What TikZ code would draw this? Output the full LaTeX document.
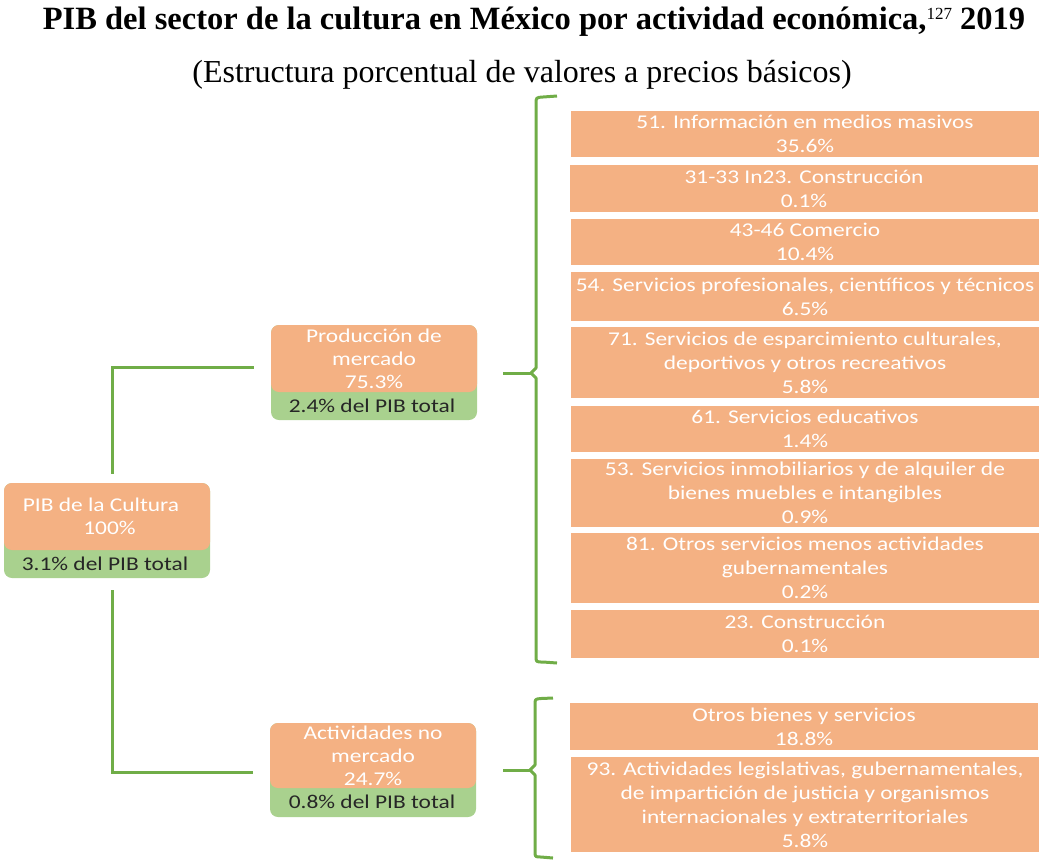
\documentclass[tikz,border=0pt]{standalone}
\usepackage{fontspec}
\setmainfont{Liberation Serif}
\newfontfamily\carl{Carlito}[FakeStretch=1.2]
\definecolor{boxor}{HTML}{F4B183}
\definecolor{boxgr}{HTML}{A9D18E}
\definecolor{lingr}{HTML}{70AD47}
\begin{document}
\begin{tikzpicture}[x=1pt,y=-1pt,
  rbox/.style={rectangle, fill=boxor, text=white, minimum width=468pt, inner sep=0pt, align=center,
    font=\carl\fontsize{19.5}{24}\selectfont},
  gbg/.style={rectangle, rounded corners=8pt, fill=boxgr, minimum width=206pt, inner sep=0pt},
  obox/.style={rectangle, rounded corners=8pt, fill=boxor, text=white, minimum width=206pt, inner sep=0pt, align=center,
    font=\carl\fontsize{19.5}{23}\selectfont},
  gtext/.style={text=black!85, inner sep=0pt, font=\carl\fontsize{19.5}{23}\selectfont},
  conn/.style={draw=lingr, line width=3pt},
  bracel/.style={draw=lingr, line width=3pt, line join=round}]
\useasboundingbox (0,0) rectangle (1040,860);
% titles
\node[font=\bfseries\fontsize{32.5}{34}\selectfont, inner sep=0pt] (title) at (534,22)
  {PIB del sector de la cultura en México por actividad económica,\raisebox{10pt}{\mdseries\fontsize{17}{17}\selectfont 127} 2019};
\node[font=\fontsize{32}{34}\selectfont, inner sep=0pt] (subtitle) at (522,75)
  {(Estructura porcentual de valores a precios básicos)};
% left root
\node[gbg, minimum height=95pt] (pibbg) at (107,530.5) {};
\node[obox, minimum height=67pt] (pib) at (107,516.5) {PIB de la Cultura\hspace*{12pt}\\\hspace*{5pt}100\%};
\node[gtext] (pibpct) at (105,564) {3.1\% del PIB total};
% production
\node[gbg, minimum height=95pt] (prodbg) at (374,372.5) {};
\node[obox, minimum height=67pt] (prod) at (374,358.5) {Producción de\\mercado\\75.3\%};
\node[gtext] (prodpct) at (372,406) {2.4\% del PIB total};
% non-market
\node[gbg, minimum height=94pt] (actbg) at (373,770) {};
\node[obox, minimum height=65pt] (act) at (373,755.5) {Actividades no\\mercado\\24.7\%};
\node[gtext] (actpct) at (372,802) {0.8\% del PIB total};
% right boxes
\node[rbox, minimum height=46pt] (b1) at (805,134) {51. Información en medios masivos\\35.6\%};
\node[rbox, minimum height=47pt] (b2) at (804,188.5) {31-33 In23. Construcción\\0.1\%};
\node[rbox, minimum height=46pt] (b3) at (805,242) {43-46 Comercio\\10.4\%};
\node[rbox, minimum height=49pt] (b4) at (805,296.5) {54. Servicios profesionales, científicos y técnicos\\6.5\%};
\node[rbox, minimum height=71pt] (b5) at (805,362.5) {71. Servicios de esparcimiento culturales,\\deportivos y otros recreativos\\5.8\%};
\node[rbox, minimum height=46pt] (b6) at (805,429) {61. Servicios educativos\\1.4\%};
\node[rbox, minimum height=68pt] (b7) at (805,493) {53. Servicios inmobiliarios y de alquiler de\\bienes muebles e intangibles\\0.9\%};
\node[rbox, minimum height=70pt] (b8) at (805,568) {81. Otros servicios menos actividades\\gubernamentales\\0.2\%};
\node[rbox, minimum height=48pt] (b9) at (805,634) {23. Construcción\\0.1\%};
\node[rbox, minimum height=47pt] (b10) at (804,726.5) {Otros bienes y servicios\\18.8\%};
\node[rbox, minimum height=95pt] (b11) at (805,804.5) {93. Actividades legislativas, gubernamentales,\\de impartición de justicia y organismos\\internacionales y extraterritoriales\\5.8\%};
% connectors from root
\draw[conn] ([xshift=5pt,yshift=9pt]pibbg.north) |- ([xshift=-17pt,yshift=5.5pt]prodbg.west);
\draw[conn] ([xshift=5pt,yshift=-12pt]pibbg.south) |- ([xshift=-17pt,yshift=-2pt]actbg.west);
% braces
\coordinate (tip1) at (531,373);
\coordinate (tip2) at (530,770);
\draw[conn] ([xshift=26pt,yshift=-0.5pt]prodbg.east) -- (tip1);
\draw[conn] ([xshift=27pt]actbg.east) -- (tip2);
\draw[bracel] (557,96) -- (543,97) .. controls (536,97.5) .. (536,104) -- (536,368) -- (tip1) -- (536,378)
  -- (536,656) .. controls (536,662) .. (543,662) -- (557,663);
\draw[bracel] (553,698) -- (541,698.5) .. controls (535,699) .. (535,705) -- (535,765) -- (tip2) -- (535,775)
  -- (535,851) .. controls (535,857) .. (541,857) -- (553,858);
\end{tikzpicture}
\end{document}
